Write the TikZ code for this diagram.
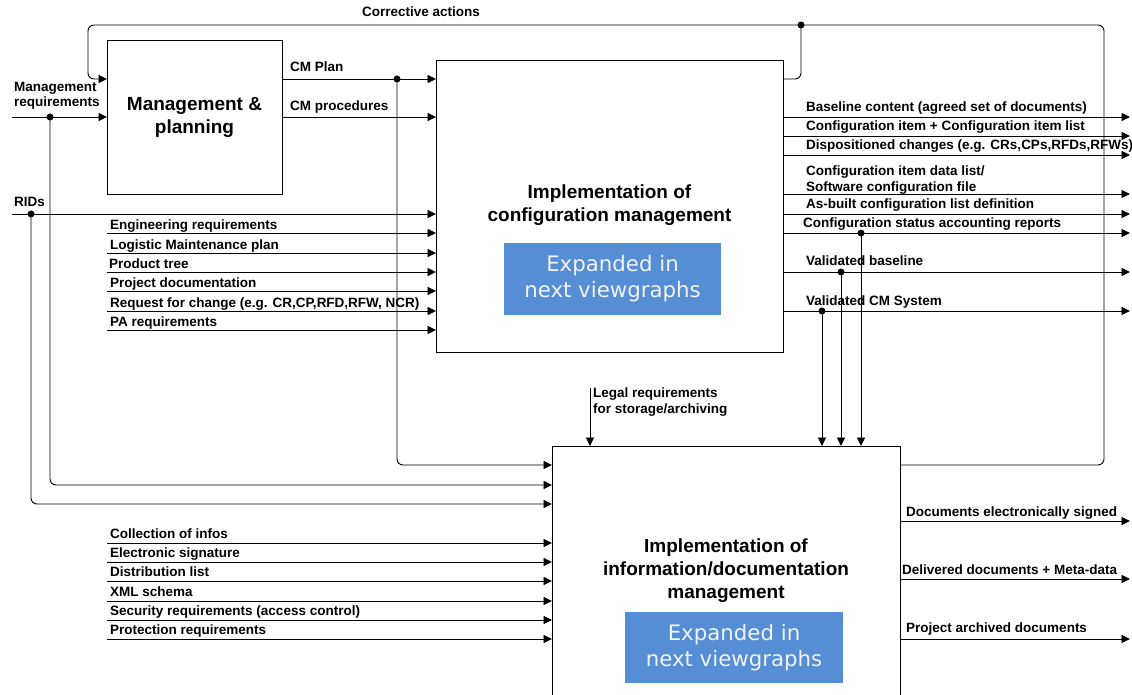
\documentclass[tikz,border=0pt]{standalone}
\usepackage{fontspec}
\setmainfont{Liberation Sans}
\newfontfamily\expfont{DejaVu Sans}
\usetikzlibrary{arrows.meta}
\definecolor{expblue}{RGB}{85,142,213}
\begin{document}
\begin{tikzpicture}[x=1pt,y=-1pt,
  wire/.style={line width=0.9pt, black},
  arr/.style={wire, -{Triangle[length=8.5pt,width=8pt]}},
  box/.style={draw, line width=0.9pt, inner sep=0},
  dot/.style={circle, fill, inner sep=0, minimum size=7pt},
  lbl/.style={font=\fontsize{13.5}{16}\selectfont\bfseries, anchor=base west, inner sep=0},
  title/.style={font=\fontsize{19}{23}\selectfont\bfseries, align=center, inner sep=0},
  expbox/.style={fill=expblue, text=white!95!black, align=center, inner sep=0,
    font=\expfont\fontsize{21.3}{26}\selectfont},
]
\useasboundingbox (0,0) rectangle (1132,695);
\clip (0,0) rectangle (1132,695);

% ---- activity boxes ----
\node[box, anchor=north west, minimum width=175pt, minimum height=154pt] (mp) at (107,40) {};
\node[box, anchor=north west, minimum width=347pt, minimum height=292pt] (cm) at (436,60) {};
\node[box, anchor=north west, minimum width=348pt, minimum height=290pt] (im) at (552,446) {};

\node[title] (mpt) at (194.5,117) {Management \&\\planning};
\node[title] (cmt) at (609.5,205) {Implementation of\\configuration management};
\node[title] (imt) at (726,571) {Implementation of\\information/documentation\\management};

\node[expbox, minimum width=217pt, minimum height=72pt] (cmx) at (612.5,279) {Expanded in\\next viewgraphs};
\node[expbox, minimum width=218pt, minimum height=71pt] (imx) at (734,647.5) {Expanded in\\next viewgraphs};

% ---- management requirements and RIDs ----
\coordinate (mrs) at (12,117);
\draw[arr] (mrs) -- (mrs -| mp.west);
\node[dot] (mrd) at (50,117) {};
\node[lbl] (mrl1) at (14,92) {Management};
\node[lbl] (mrl2) at (14,107) {requirements};

\coordinate (rids) at (12,214);
\draw[arr] (rids) -- (rids -| cm.west);
\node[dot] (rdd) at (31,214) {};
\node[lbl] (ridl) at (14,207) {RIDs};

% ---- plan outputs ----
\coordinate (cpo) at ([yshift=-39pt]mp.north east);
\draw[arr] (cpo) -- (cpo -| cm.west);
\node[dot] (cpd) at (397,79) {};
\node[lbl] (cpl) at (290,72) {CM Plan};

\coordinate (cpr) at ([yshift=-77pt]mp.north east);
\draw[arr] (cpr) -- (cpr -| cm.west);
\node[lbl] (cprl) at (290,111) {CM procedures};

% ---- branches into the information box ----
\coordinate (imA) at ([yshift=-19pt]im.north west);
\coordinate (imB) at ([yshift=-39pt]im.north west);
\coordinate (imC) at ([yshift=-58pt]im.north west);
\draw[arr, rounded corners=6pt] (cpd.center) |- (imA);
\draw[arr, rounded corners=6pt] (mrd.center) |- (imB);
\draw[arr, rounded corners=6pt] (rdd.center) |- (imC);

% ---- corrective actions loop ----
\coordinate (imfb) at ([yshift=-19pt]im.north east);
\coordinate (mpfb) at ([yshift=-39pt]mp.north west);
\coordinate (ne) at (1104,25);
\coordinate (nw) at (88,79);
\draw[arr, rounded corners=6pt] (imfb) -| (ne) -| (nw) -- (mpfb);
\node[lbl, anchor=base] (cal) at (421,17) {Corrective actions};

\coordinate (cmfb) at ([yshift=-19pt]cm.north east);
\node[dot] (fbd) at (801,25) {};
\draw[wire, rounded corners=6pt] (cmfb) -| (fbd.center);

% ---- inputs to configuration management ----
\coordinate (s1) at (107,233);
\coordinate (s2) at (107,253);
\coordinate (s3) at (107,272);
\coordinate (s4) at (107,291);
\coordinate (s5) at (107,311);
\coordinate (s6) at (107,330);
\foreach \s in {s1,s2,s3,s4,s5,s6} \draw[arr] (\s) -- (\s -| cm.west);
\node[lbl] (sl1) at (110,229.5) {Engineering requirements};
\node[lbl] (sl2) at (110,249.5) {Logistic Maintenance plan};
\node[lbl] (sl3) at (109,268.5) {Product tree};
\node[lbl] (sl4) at (110,287.5) {Project documentation};
\node[lbl] (sl5) at (110,307.5) {Request for change (e.g. CR,CP,RFD,RFW, NCR)};
\node[lbl] (sl6) at (110,326.5) {PA requirements};

% ---- outputs of configuration management ----
\coordinate (e1) at (1130,117);
\coordinate (e2) at (1130,136);
\coordinate (e3) at (1130,155);
\coordinate (e4) at (1130,194);
\coordinate (e5) at (1130,214);
\coordinate (e6) at (1130,233);
\coordinate (e7) at (1130,272);
\coordinate (e8) at (1130,311);
\foreach \e in {e1,e2,e3,e4,e5,e6,e7,e8} \draw[arr] (\e -| cm.east) -- (\e);
\node[lbl] (el1) at (806,111.5) {Baseline content (agreed set of documents)};
\node[lbl] (el2) at (806,130.5) {Configuration item + Configuration item list};
\node[lbl] (el3) at (806,149.5) {Dispositioned changes (e.g. CRs,CPs,RFDs,RFWs)};
\node[lbl] (el4a) at (806,175.5) {Configuration item data list/};
\node[lbl] (el4b) at (806,191.5) {Software configuration file};
\node[lbl] (el5) at (806,208.5) {As-built configuration list definition};
\node[lbl] (el6) at (803,227.5) {Configuration status accounting reports};
\node[lbl] (el7) at (806,265.5) {Validated baseline};
\node[lbl] (el8) at (806,305.5) {Validated CM System};

\node[dot] (d6) at (861,233) {};
\node[dot] (d7) at (841,272) {};
\node[dot] (d8) at (822,311) {};
\foreach \d in {d6,d7,d8} \draw[arr] (\d.center) -- (\d |- im.north);

% ---- legal requirements ----
\coordinate (legal) at (590,388);
\draw[arr] (legal) -- (legal |- im.north);
\node[lbl] (lgl1) at (593,397) {Legal requirements};
\node[lbl] (lgl2) at (593,413) {for storage/archiving};

% ---- inputs to information management ----
\coordinate (t1) at (107,543);
\coordinate (t2) at (107,562);
\coordinate (t3) at (107,581);
\coordinate (t4) at (107,601);
\coordinate (t5) at (107,620);
\coordinate (t6) at (107,639);
\foreach \t in {t1,t2,t3,t4,t5,t6} \draw[arr] (\t) -- (\t -| im.west);
\node[lbl] (tl1) at (110,538.5) {Collection of infos};
\node[lbl] (tl2) at (110,557.5) {Electronic signature};
\node[lbl] (tl3) at (110,576.5) {Distribution list};
\node[lbl] (tl4) at (110,596.5) {XML schema};
\node[lbl] (tl5) at (110,615.5) {Security requirements (access control)};
\node[lbl] (tl6) at (110,634.5) {Protection requirements};

% ---- outputs of information management ----
\coordinate (f1) at (1130,521);
\coordinate (f2) at (1130,579);
\coordinate (f3) at (1130,639);
\foreach \f in {f1,f2,f3} \draw[arr] (\f -| im.east) -- (\f);
\node[lbl] (fl1) at (906,516.5) {Documents electronically signed};
\node[lbl] (fl2) at (902,574.5) {Delivered documents + Meta-data};
\node[lbl] (fl3) at (906,632.5) {Project archived documents};
\end{tikzpicture}
\end{document}
